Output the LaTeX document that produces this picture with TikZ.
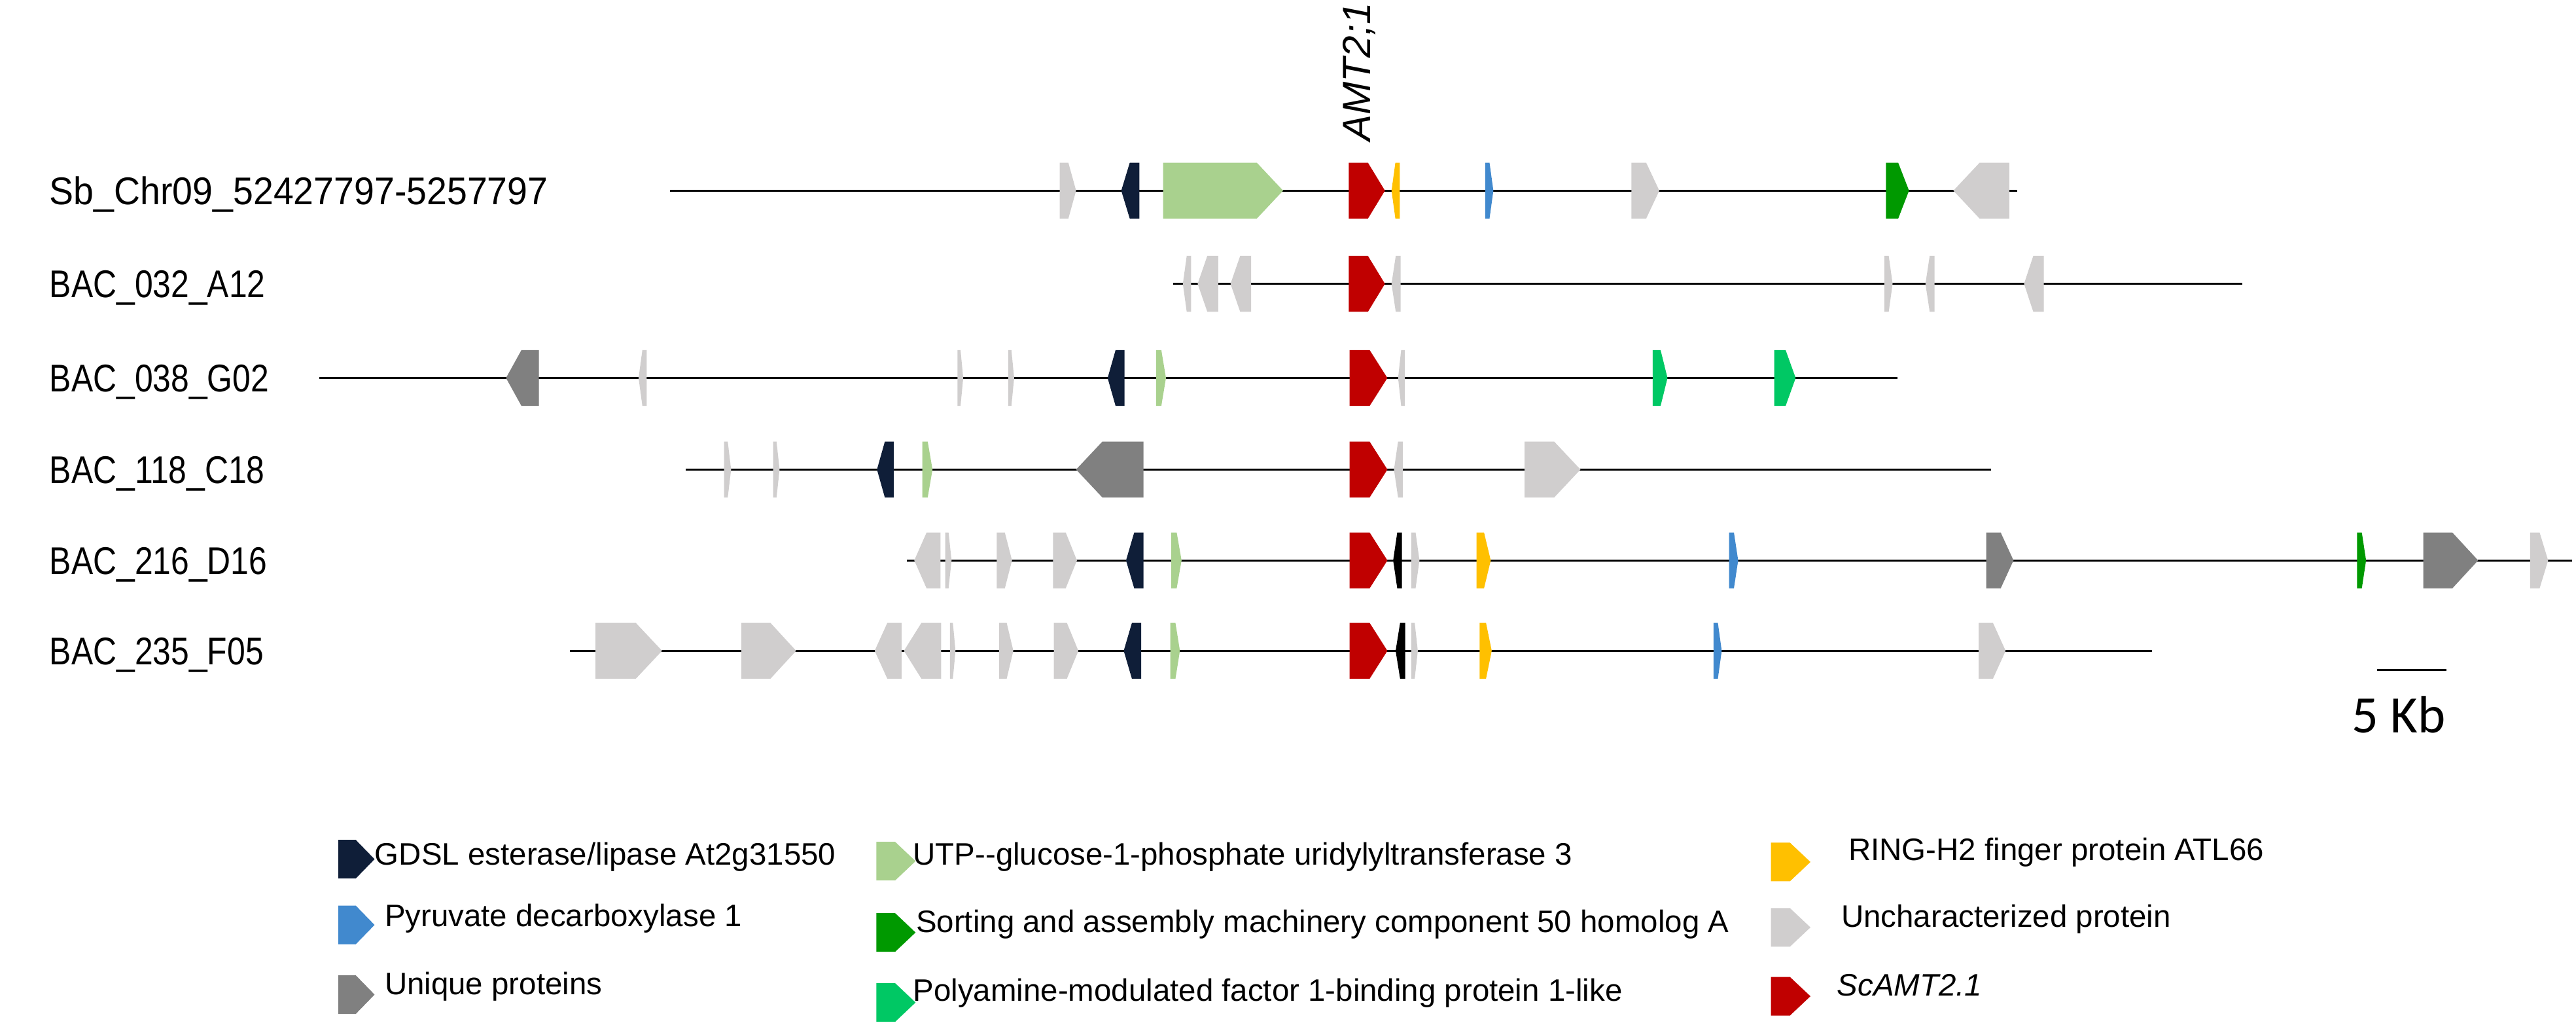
\documentclass[tikz,border=0pt]{standalone}
\usepackage{fontspec}
\setmainfont{Liberation Sans}
\newfontfamily\calfont{Carlito}
\definecolor{gnavy}{RGB}{15,30,56}
\definecolor{glgreen}{RGB}{169,209,142}
\definecolor{gyellow}{RGB}{255,192,0}
\definecolor{gblue}{RGB}{65,137,206}
\definecolor{gsort}{RGB}{0,153,0}
\definecolor{glgray}{RGB}{208,206,206}
\definecolor{gdgray}{RGB}{128,128,128}
\definecolor{gpoly}{RGB}{0,200,100}
\definecolor{gred}{RGB}{192,0,0}
\newcommand{\genefw}[4]{\pgfmathsetmacro\gtip{min(0.47*(#2-#1),16)}%
  \fill[#4] (#1,#3-17) -- ({#2-\gtip},#3-17) -- (#2,#3) -- ({#2-\gtip},#3+17) -- (#1,#3+17) -- cycle;}
\newcommand{\genebw}[4]{\pgfmathsetmacro\gtip{min(0.47*(#2-#1),16)}%
  \fill[#4] (#2,#3-17) -- ({#1+\gtip},#3-17) -- (#1,#3) -- ({#1+\gtip},#3+17) -- (#2,#3+17) -- cycle;}
\newcommand{\legmark}[4]{\pgfmathsetmacro\gtip{0.52*(#2-#1)}%
  \fill[#4] (#1,#3-11.75) -- ({#2-\gtip},#3-11.75) -- (#2,#3) -- ({#2-\gtip},#3+11.75) -- (#1,#3+11.75) -- cycle;}
\newcommand{\baclab}[1]{\scalebox{0.845}[1]{#1}}
\tikzset{
  chrom/.style={line width=1.1pt, black},
  rowlab/.style={anchor=base west, inner sep=0pt, font=\fontsize{23.5}{28}\selectfont},
  leglab/.style={anchor=base west, inner sep=0pt, font=\fontsize{18.9}{22}\selectfont},
}
\begin{document}
\begin{tikzpicture}[x=1pt,y=-1pt]
\useasboundingbox (0,0) rectangle (1568,623.3);
\fill[white] (0,0) rectangle (1568,623.3);
% row labels
\node[rowlab] (l1) at (30,124.4) {\scalebox{0.94}[1]{Sb\_Chr09\_52427797-5257797}};
\node[rowlab] (l2) at (30,181.1) {\baclab{BAC\_032\_A12}};
\node[rowlab] (l3) at (30,238.4) {\baclab{BAC\_038\_G02}};
\node[rowlab] (l4) at (30,294.1) {\baclab{BAC\_118\_C18}};
\node[rowlab] (l5) at (30,349.4) {\baclab{BAC\_216\_D16}};
\node[rowlab] (l6) at (30,404.4) {\baclab{BAC\_235\_F05}};
\node[anchor=base west, inner sep=0pt, rotate=90, font=\fontsize{24}{28}\selectfont\itshape] (amt) at (834,86) {AMT2;1};
% chromosome lines
\coordinate (a1) at (408,116); \coordinate (b1) at (1228,116);
\coordinate (a2) at (714,172.7); \coordinate (b2) at (1365,172.7);
\coordinate (a3) at (194.5,230); \coordinate (b3) at (1155,230);
\coordinate (a4) at (417.5,285.7); \coordinate (b4) at (1212,285.7);
\coordinate (a5) at (552,341); \coordinate (b5) at (1565.7,341);
\coordinate (a6) at (347,396); \coordinate (b6) at (1310,396);
\foreach \i in {1,...,6} {\draw[chrom] (a\i) -- (b\i);}
% row 1
\genefw{645}{655}{116}{glgray}
\genebw{682.5}{693.5}{116}{gnavy}
\genefw{708}{781}{116}{glgreen}
\genefw{821}{843}{116}{gred}
\genebw{847}{852}{116}{gyellow}
\genefw{904}{909}{116}{gblue}
\genefw{993}{1010}{116}{glgray}
\genefw{1148}{1162}{116}{gsort}
\genebw{1189}{1223}{116}{glgray}
% row 2
\genebw{720}{725}{172.7}{glgray}
\genebw{729}{741.5}{172.7}{glgray}
\genebw{749}{761.5}{172.7}{glgray}
\genefw{821}{843}{172.7}{gred}
\genebw{847}{852.5}{172.7}{glgray}
\genefw{1147}{1152}{172.7}{glgray}
\genebw{1172}{1177.5}{172.7}{glgray}
\genebw{1232}{1244}{172.7}{glgray}
% row 3
\genebw{308}{328}{230}{gdgray}
\genebw{388.7}{393.6}{230}{glgray}
\genefw{582.8}{586.3}{230}{glgray}
\genefw{613.7}{617.3}{230}{glgray}
\genebw{674.2}{684.5}{230}{gnavy}
\genefw{703.7}{709.7}{230}{glgreen}
\genefw{821.5}{844.5}{230}{gred}
\genebw{851}{855}{230}{glgray}
\genefw{1006}{1015}{230}{gpoly}
\genefw{1080}{1093}{230}{gpoly}
% row 4
\genefw{440.7}{445}{285.7}{glgray}
\genefw{470.6}{474.5}{285.7}{glgray}
\genebw{533.8}{544}{285.7}{gnavy}
\genefw{561.4}{567.6}{285.7}{glgreen}
\genebw{655}{696}{285.7}{gdgray}
\genefw{821.5}{844.5}{285.7}{gred}
\genebw{848.5}{853.8}{285.7}{glgray}
\genefw{928}{962}{285.7}{glgray}
% row 5
\genebw{556.5}{572.5}{341}{glgray}
\genefw{575.3}{579.2}{341}{glgray}
\genefw{606.7}{616}{341}{glgray}
\genefw{641}{655.5}{341}{glgray}
\genebw{685.4}{696}{341}{gnavy}
\genefw{712.9}{719.2}{341}{glgreen}
\genefw{821.5}{844.5}{341}{gred}
\genebw{848}{853.3}{341}{black}
\genefw{859}{864}{341}{glgray}
\genefw{898.7}{907.4}{341}{gyellow}
\genefw{1052.5}{1058}{341}{gblue}
\genefw{1209}{1225.6}{341}{gdgray}
\genefw{1434.7}{1440.2}{341}{gsort}
\genefw{1475}{1508.4}{341}{gdgray}
\genefw{1540}{1551}{341}{glgray}
% row 6
\genefw{362.5}{403}{396}{glgray}
\genefw{451.3}{484.6}{396}{glgray}
\genebw{532.4}{548.8}{396}{glgray}
\genebw{550.2}{572.9}{396}{glgray}
\genefw{578.2}{581.6}{396}{glgray}
\genefw{608.2}{616.8}{396}{glgray}
\genefw{641.5}{656.4}{396}{glgray}
\genebw{684}{694.6}{396}{gnavy}
\genefw{712.4}{718.2}{396}{glgreen}
\genefw{821.5}{844.5}{396}{gred}
\genebw{849.5}{855.3}{396}{black}
\genefw{859}{863}{396}{glgray}
\genefw{900.6}{908}{396}{gyellow}
\genefw{1043}{1048}{396}{gblue}
\genefw{1204.4}{1220.8}{396}{glgray}
% scale bar
\coordinate (s1) at (1447,407.5); \coordinate (s2) at (1489,407.5);
\draw[line width=1.1pt] (s1) -- (s2);
\node[anchor=base, inner sep=0pt, font=\calfont\fontsize{32}{36}\selectfont] (kb) at (1460,446) {5 Kb};
% legend
\legmark{206}{228}{522.8}{gnavy}
\legmark{206}{228}{562.8}{gblue}
\legmark{206}{228}{605.2}{gdgray}
\legmark{533.4}{557.3}{524}{glgreen}
\legmark{533.4}{557.3}{567.4}{gsort}
\legmark{533.4}{557.3}{610}{gpoly}
\legmark{1078}{1102}{524.5}{gyellow}
\legmark{1078}{1102}{564.3}{glgray}
\legmark{1078}{1102}{606.2}{gred}
\node[leglab] (t1) at (228,526.2) {GDSL esterase/lipase At2g31550};
\node[leglab] (t2) at (234,563.7) {Pyruvate decarboxylase 1};
\node[leglab] (t3) at (234,605.3) {Unique proteins};
\node[leglab] (t4) at (555.6,526.3) {UTP-{}-glucose-1-phosphate uridylyltransferase 3};
\node[leglab] (t5) at (557.4,567.3) {Sorting and assembly machinery component 50 homolog A};
\node[leglab] (t6) at (555.6,609) {Polyamine-modulated factor 1-binding protein 1-like};
\node[leglab] (t7) at (1125,523.6) {RING-H2 finger protein ATL66};
\node[leglab] (t8) at (1120.6,564.3) {Uncharacterized protein};
\node[leglab, font=\fontsize{18.9}{22}\selectfont\itshape] (t9) at (1118,605.8) {ScAMT2.1};
\end{tikzpicture}
\end{document}
